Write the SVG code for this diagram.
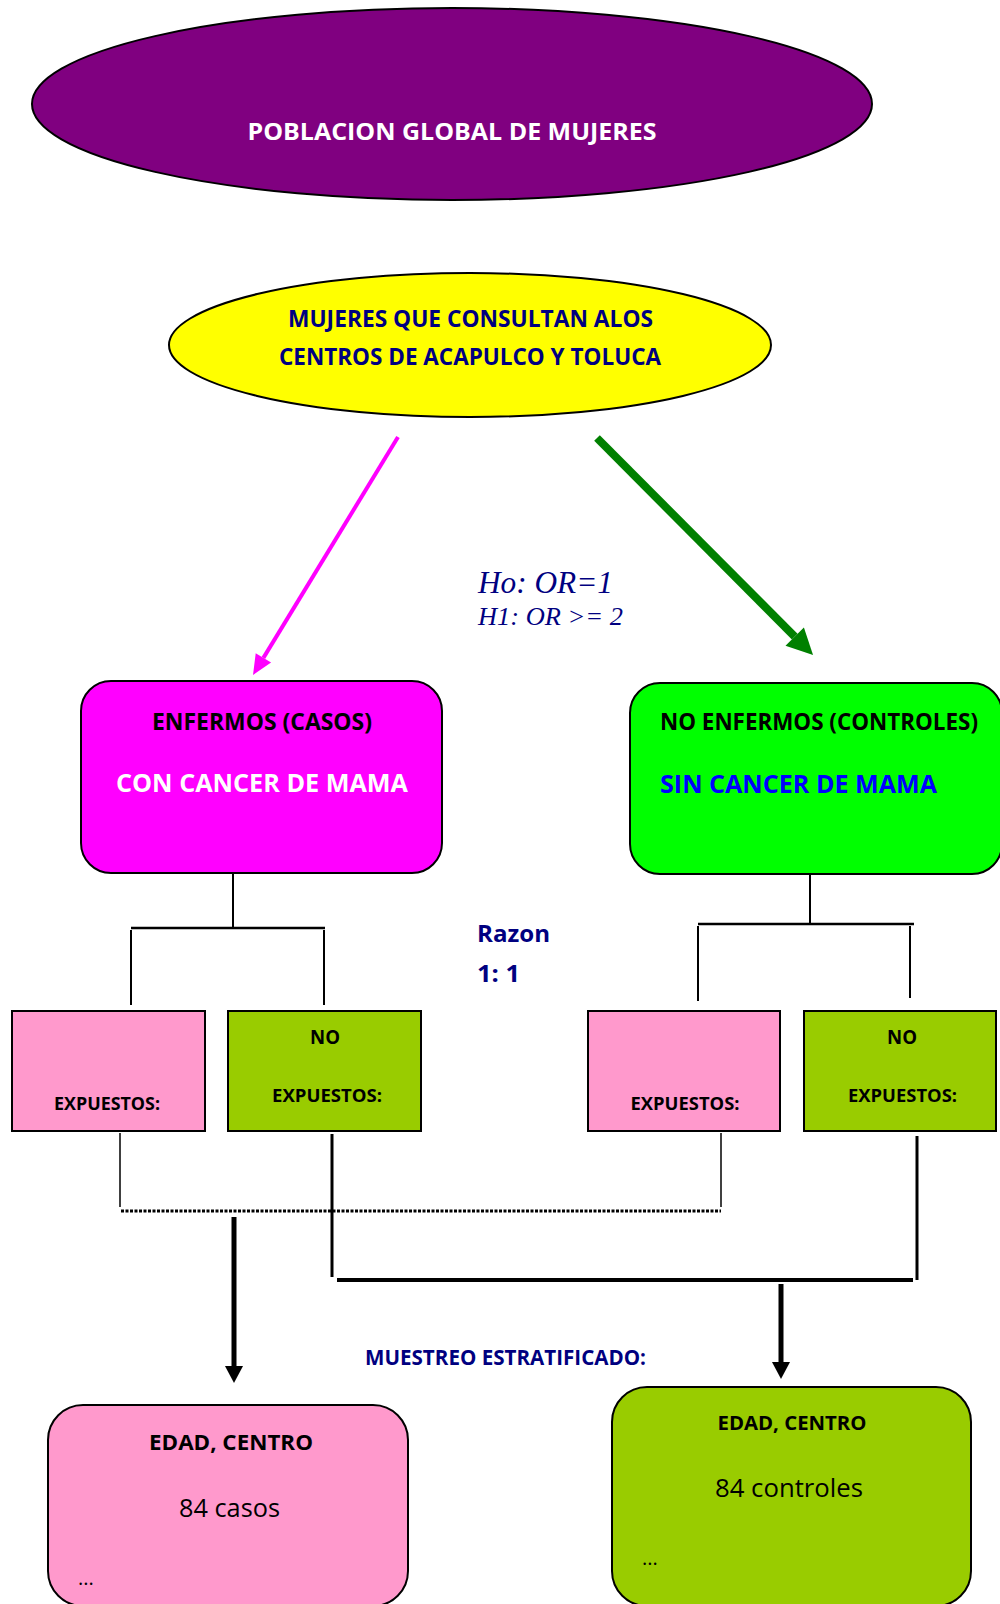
<svg xmlns="http://www.w3.org/2000/svg" width="1000" height="1604" viewBox="0 0 1000 1604">
<style>
.b{font-family:"Open Sans","Liberation Sans",sans-serif;font-weight:700;}
.r{font-family:"Open Sans","Liberation Sans",sans-serif;font-weight:400;}
.it{font-family:"Liberation Serif","Times New Roman",serif;font-style:italic;fill:#000080;}
.nv{fill:#000080;}
.node{stroke:#000;stroke-width:2;}
.ln{stroke:#000;fill:none;}
</style>
<defs>
<marker id="hPink" markerUnits="userSpaceOnUse" markerWidth="20" markerHeight="18" refX="0" refY="9" orient="auto" overflow="visible"><path d="M0,0 L20,9 L0,18 z" fill="#FF00FF"/></marker>
<marker id="hGreen" markerUnits="userSpaceOnUse" markerWidth="26" markerHeight="26" refX="0" refY="13" orient="auto" overflow="visible"><path d="M0,0 L26,13 L0,26 z" fill="#008000"/></marker>
<marker id="hBlack" markerUnits="userSpaceOnUse" markerWidth="17" markerHeight="18" refX="0" refY="9" orient="auto" overflow="visible"><path d="M0,0 L17,9 L0,18 z" fill="#000"/></marker>
</defs>
<rect width="1000" height="1604" fill="#fff"/>

<g id="poblacion">
<ellipse class="node" cx="452" cy="104" rx="420" ry="96" fill="#800080"/>
<text class="b" x="452" y="140" font-size="24" fill="#fff" text-anchor="middle" textLength="409" lengthAdjust="spacingAndGlyphs">POBLACION GLOBAL DE MUJERES</text>
</g>

<g id="mujeres">
<ellipse class="node" cx="470" cy="345" rx="301" ry="72" fill="#FFFF00"/>
<text class="b nv" x="470.5" y="327" font-size="24" text-anchor="middle" textLength="365" lengthAdjust="spacingAndGlyphs">MUJERES QUE CONSULTAN ALOS</text>
<text class="b nv" x="470" y="365" font-size="24" text-anchor="middle" textLength="382" lengthAdjust="spacingAndGlyphs">CENTROS DE ACAPULCO Y TOLUCA</text>
</g>

<g id="hipotesis">
<text class="it" x="478" y="593" font-size="31" textLength="135" lengthAdjust="spacingAndGlyphs">Ho: OR=1</text>
<text class="it" x="478" y="625" font-size="25" textLength="145" lengthAdjust="spacingAndGlyphs">H1: OR &gt;= 2</text>
</g>

<g id="casos">
<rect class="node" x="81" y="681" width="361" height="192" rx="30" ry="30" fill="#FF00FF"/>
<text class="b" x="262" y="730" font-size="24" fill="#000" text-anchor="middle" textLength="220" lengthAdjust="spacingAndGlyphs">ENFERMOS (CASOS)</text>
<text class="b" x="262" y="792" font-size="25" fill="#fff" text-anchor="middle" textLength="292" lengthAdjust="spacingAndGlyphs">CON CANCER DE MAMA</text>
</g>

<g id="controles">
<rect class="node" x="630" y="683" width="372" height="191" rx="30" ry="30" fill="#00FF00"/>
<text class="b" x="660" y="730" font-size="24" fill="#000" textLength="318" lengthAdjust="spacingAndGlyphs">NO ENFERMOS (CONTROLES)</text>
<text class="b" x="660" y="793" font-size="25" fill="#0000FF" textLength="277" lengthAdjust="spacingAndGlyphs">SIN CANCER DE MAMA</text>
</g>

<g id="razon">
<text class="b nv" x="477" y="942" font-size="23" textLength="73" lengthAdjust="spacingAndGlyphs">Razon</text>
<text class="b nv" x="477" y="982" font-size="23" textLength="43" lengthAdjust="spacingAndGlyphs">1: 1</text>
</g>

<g id="casos-expuestos">
<rect class="node" x="12" y="1011" width="193" height="120" fill="#FF99CC"/>
<text class="b" x="107" y="1110" font-size="17" fill="#000" text-anchor="middle" textLength="106" lengthAdjust="spacingAndGlyphs">EXPUESTOS:</text>
</g>
<g id="casos-no-expuestos">
<rect class="node" x="228" y="1011" width="193" height="120" fill="#99CC00"/>
<text class="b" x="325" y="1044" font-size="19" fill="#000" text-anchor="middle" textLength="30" lengthAdjust="spacingAndGlyphs">NO</text>
<text class="b" x="327" y="1102" font-size="17" fill="#000" text-anchor="middle" textLength="110" lengthAdjust="spacingAndGlyphs">EXPUESTOS:</text>
</g>
<g id="controles-expuestos">
<rect class="node" x="588" y="1011" width="192" height="120" fill="#FF99CC"/>
<text class="b" x="685" y="1110" font-size="17" fill="#000" text-anchor="middle" textLength="109" lengthAdjust="spacingAndGlyphs">EXPUESTOS:</text>
</g>
<g id="controles-no-expuestos">
<rect class="node" x="804" y="1011" width="192" height="120" fill="#99CC00"/>
<text class="b" x="902" y="1044" font-size="19" fill="#000" text-anchor="middle" textLength="30" lengthAdjust="spacingAndGlyphs">NO</text>
<text class="b" x="902.5" y="1102" font-size="17" fill="#000" text-anchor="middle" textLength="109" lengthAdjust="spacingAndGlyphs">EXPUESTOS:</text>
</g>

<g id="muestreo">
<text class="b nv" x="365" y="1365" font-size="21" textLength="281" lengthAdjust="spacingAndGlyphs">MUESTREO ESTRATIFICADO:</text>
</g>

<g id="muestra-casos">
<rect class="node" x="48" y="1405" width="360" height="201" rx="35" ry="35" fill="#FF99CC"/>
<text class="b" x="231" y="1450" font-size="21" fill="#000" text-anchor="middle" textLength="164" lengthAdjust="spacingAndGlyphs">EDAD, CENTRO</text>
<text class="r" x="229.5" y="1517" font-size="25" fill="#000" text-anchor="middle" textLength="101" lengthAdjust="spacingAndGlyphs">84 casos</text>
<text class="r" x="78" y="1585" font-size="20" fill="#000">...</text>
</g>

<g id="muestra-controles">
<rect class="node" x="612" y="1387" width="359" height="219" rx="35" ry="35" fill="#99CC00"/>
<text class="b" x="792" y="1430" font-size="20" fill="#000" text-anchor="middle" textLength="149" lengthAdjust="spacingAndGlyphs">EDAD, CENTRO</text>
<text class="r" x="789" y="1497" font-size="25" fill="#000" text-anchor="middle" textLength="148" lengthAdjust="spacingAndGlyphs">84 controles</text>
<text class="r" x="642" y="1565" font-size="20" fill="#000">...</text>
</g>

<g id="connectors">
<line x1="398" y1="437" x2="263.4" y2="657.9" stroke="#FF00FF" stroke-width="4" marker-end="url(#hPink)"/>
<line x1="597" y1="438" x2="794.7" y2="636.6" stroke="#008000" stroke-width="8" marker-end="url(#hGreen)"/>
<g class="ln" stroke-width="2">
<line x1="233" y1="873" x2="233" y2="928"/>
<line x1="131" y1="928" x2="325" y2="928" stroke-width="2.5"/>
<line x1="131" y1="930" x2="131" y2="1005"/>
<line x1="324" y1="930" x2="324" y2="1005"/>
<line x1="810" y1="875" x2="810" y2="924"/>
<line x1="698" y1="924" x2="914" y2="924" stroke-width="2.5"/>
<line x1="698" y1="926" x2="698" y2="1001"/>
<line x1="910" y1="926" x2="910" y2="998"/>
<line x1="120" y1="1133" x2="120" y2="1207" stroke-width="1.5"/>
<line x1="721" y1="1133" x2="721" y2="1207" stroke-width="1.5"/>
<line x1="121" y1="1211" x2="721" y2="1211" stroke-width="3" stroke-dasharray="3 1.5"/>
<line x1="332" y1="1134" x2="332" y2="1277" stroke-width="3"/>
<line x1="917" y1="1136" x2="917" y2="1280" stroke-width="3"/>
<line x1="337" y1="1280" x2="913" y2="1280" stroke-width="4"/>
<line x1="234" y1="1217" x2="234" y2="1366" stroke-width="5" marker-end="url(#hBlack)"/>
<line x1="781" y1="1284" x2="781" y2="1362" stroke-width="5" marker-end="url(#hBlack)"/>
</g>
</g>
</svg>
